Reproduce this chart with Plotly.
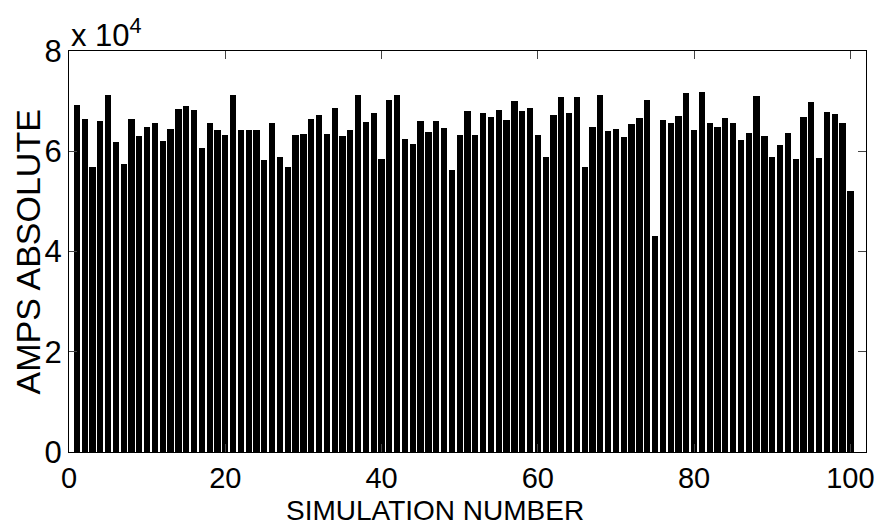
import plotly.graph_objects as go

sim_number = list(range(1, 101))
amps_absolute = [
    69200, 66400, 56800, 66000, 71200, 61800, 57400, 66400, 63000, 64800,
    65700, 62000, 64400, 68400, 69000, 68200, 60600, 65700, 64200, 63200,
    71200, 64200, 64200, 64200, 58200, 65600, 58900, 56800, 63300, 63500,
    66400, 67200, 63500, 68600, 63000, 64200, 71200, 65800, 67600, 58500,
    70200, 71300, 62400, 61400, 66000, 63800, 66000, 64700, 56300, 63200,
    68000, 63300, 67700, 66800, 68300, 66200, 70000, 68000, 68600, 63300,
    58900, 67200, 70800, 67600, 70800, 56900, 64900, 71300, 64100, 64400,
    62800, 65400, 66700, 70200, 43100, 66200, 65600, 67000, 71600, 64200,
    71900, 65700, 64800, 66600, 65600, 62200, 63600, 71000, 63000, 58900,
    61200, 63600, 58500, 66800, 69800, 58700, 67800, 67500, 65700, 52000,
]
x_ticks = [0, 20, 40, 60, 80, 100]
y_ticks = [0, 20000, 40000, 60000, 80000]
y_tick_text = ["0", "2", "4", "6", "8"]

FONT = "Liberation Sans, Arial, Helvetica, sans-serif"

fig = go.Figure(go.Bar(
    x=sim_number, y=amps_absolute, width=0.8,
    marker=dict(color="black", line=dict(width=0)),
))

fig.update_layout(
    width=886, height=527,
    margin=dict(l=69, r=16, t=51, b=75),
    paper_bgcolor="white", plot_bgcolor="white",
    showlegend=False,
    font=dict(family=FONT, color="black", size=30),
    bargap=0,
)
fig.update_xaxes(
    range=[0, 102], tickvals=x_ticks, ticks="inside", ticklen=8,
    showline=True, linecolor="black", linewidth=1, mirror="ticks",
    showgrid=False, zeroline=False, tickfont=dict(size=29),
)
fig.update_yaxes(
    range=[0, 80000], tickvals=y_ticks, ticktext=y_tick_text,
    ticks="inside", ticklen=8,
    showline=True, linecolor="black", linewidth=1, mirror="ticks",
    showgrid=False, zeroline=False, tickfont=dict(size=31),
)
fig.add_annotation(
    text="SIMULATION NUMBER", xref="paper", yref="paper",
    x=0.459, y=-0.145, xanchor="center", yanchor="middle",
    showarrow=False, font=dict(size=28), borderpad=0,
)
fig.add_annotation(
    text="AMPS ABSOLUTE", xref="paper", yref="paper",
    x=-0.052, y=0.499, xanchor="center", yanchor="middle",
    textangle=-90, showarrow=False, font=dict(size=34),
)
fig.add_annotation(
    text="x 10<sup>4</sup>", xref="paper", yref="paper",
    x=0.0, y=0.99, xanchor="left", yanchor="bottom",
    showarrow=False, font=dict(size=31),
)

fig.write_html("out.html")
